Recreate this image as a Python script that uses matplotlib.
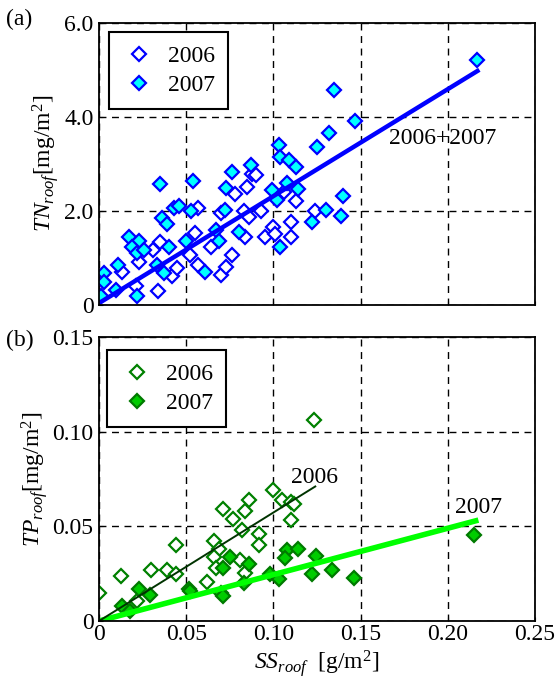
import numpy as np
import matplotlib
matplotlib.use("Agg")
import matplotlib.pyplot as plt

plt.rcParams['font.family'] = ['Liberation Serif', 'DejaVu Serif']
plt.rcParams['mathtext.fontset'] = 'custom'
plt.rcParams['mathtext.rm'] = 'Liberation Serif'
plt.rcParams['mathtext.it'] = 'Liberation Serif:italic'

# (a) TN vs SS, 2006 (open) and 2007 (filled)
tn06_x = [0.013, 0.021, 0.023, 0.031, 0.035, 0.042, 0.045, 0.034, 0.057, 0.055, 0.052,
          0.057, 0.064, 0.070, 0.073, 0.076, 0.070, 0.078, 0.084, 0.085, 0.088, 0.090,
          0.083, 0.086, 0.093, 0.095, 0.100, 0.101, 0.110, 0.110, 0.113, 0.106, 0.124]
tn06_y = [0.70, 0.39, 0.91, 1.16, 1.34, 0.61, 0.78, 0.28, 2.06, 1.53, 1.06,
          0.85, 1.23, 0.63, 0.81, 1.06, 1.95, 2.36, 1.43, 2.50, 2.78, 2.77,
          1.99, 1.86, 1.99, 1.43, 1.65, 1.51, 1.76, 1.43, 2.20, 2.39, 1.99]
tn07_x = [0.001, 0.003, 0.003, 0.011, 0.010, 0.022, 0.017, 0.023, 0.019, 0.022, 0.026,
          0.040, 0.033, 0.037, 0.035, 0.036, 0.039, 0.043, 0.046, 0.053, 0.054, 0.050,
          0.061, 0.067, 0.069, 0.072, 0.073, 0.076, 0.080, 0.087, 0.099, 0.102, 0.104,
          0.103, 0.104, 0.109, 0.113, 0.108, 0.114, 0.125, 0.132, 0.135, 0.147, 0.140,
          0.122, 0.130, 0.139, 0.217]
tn07_y = [0.18, 0.68, 0.49, 0.85, 0.30, 0.18, 1.43, 1.36, 1.23, 1.09, 1.16,
          1.23, 0.85, 0.68, 2.57, 1.85, 1.71, 2.06, 2.11, 1.99, 2.64, 1.36,
          0.70, 1.58, 1.36, 2.02, 2.48, 2.82, 1.54, 2.97, 2.44, 2.22, 1.22,
          3.41, 3.15, 3.08, 2.94, 2.60, 2.46, 3.36, 3.65, 4.58, 3.92, 2.31,
          1.76, 2.01, 1.89, 5.21]
tn_fit = [22.8, 0.03]      # slope, intercept
tn_fit_x = [0.0, 0.217]

# (b) TP vs SS
tp06_x = [0.000, 0.0125, 0.022, 0.030, 0.039, 0.044, 0.044, 0.062, 0.066, 0.069, 0.066,
          0.067, 0.071, 0.077, 0.084, 0.086, 0.082, 0.081, 0.084, 0.092, 0.092, 0.0995,
          0.105, 0.110, 0.112, 0.110, 0.123]
tp06_y = [0.015, 0.024, 0.0105, 0.027, 0.027, 0.025, 0.040, 0.0205, 0.042, 0.038, 0.034,
          0.028, 0.059, 0.054, 0.058, 0.064, 0.048, 0.032, 0.0255, 0.046, 0.040, 0.069,
          0.064, 0.063, 0.062, 0.0535, 0.106]
tp07_x = [0.013, 0.018, 0.023, 0.029, 0.0515, 0.052, 0.070, 0.071, 0.071, 0.075, 0.086,
          0.083, 0.098, 0.103, 0.1076, 0.114, 0.1066, 0.122, 0.1245, 0.1335, 0.146, 0.2153]
tp07_y = [0.008, 0.0053, 0.017, 0.0135, 0.017, 0.016, 0.015, 0.013, 0.028, 0.034, 0.030,
          0.020, 0.0246, 0.0223, 0.0377, 0.0381, 0.0334, 0.0246, 0.0342, 0.027, 0.0226, 0.0456]
tp06_fit = [0.573, 0.0]
tp06_fit_x = [0.0, 0.124]
tp07_fit = [0.245, 0.0]
tp07_fit_x = [0.0, 0.216]

fig = plt.figure(figsize=(5.58, 6.82), dpi=100)
ax1 = fig.add_axes([0.1774, 0.5535, 0.7814, 0.4128])
ax2 = fig.add_axes([0.1774, 0.0894, 0.7814, 0.4165])

fs = 17
ms = 7.5


def style(ax):
    for s in ax.spines.values():
        s.set_linewidth(1.3)
    ax.grid(True, color='black', linestyle=(0, (5, 4)), linewidth=1.0)
    ax.set_axisbelow(True)
    ax.tick_params(direction='in', length=3, labelsize=fs, pad=2)
    ax.tick_params(axis='y', pad=4)


def add_legend(ax, anchor):
    leg = ax.legend(loc='upper left', bbox_to_anchor=anchor, borderaxespad=0,
                    fontsize=fs, fancybox=False, edgecolor='black', framealpha=1,
                    handlelength=1.4, handletextpad=0.55, labelspacing=0.33,
                    borderpad=0.55)
    leg.get_frame().set_linewidth(1.5)
    return leg


# ---- panel (a)
ax1.plot(tn06_x, tn06_y, linestyle='none', marker='D', ms=ms, mfc='white',
         mec='#0000ff', mew=1.6, label='2006')
ax1.plot(tn07_x, tn07_y, linestyle='none', marker='D', ms=ms, mfc='#00ffff',
         mec='#0000ff', mew=1.6, label='2007')
fx = np.array(tn_fit_x)
ax1.plot(fx, tn_fit[0] * fx + tn_fit[1], color='#0000ff', lw=3.2)
ax1.set_xlim(0, 0.25)
ax1.set_ylim(0, 6)
ax1.set_xticks([0, 0.05, 0.10, 0.15, 0.20, 0.25])
ax1.set_xticklabels([])
ax1.set_yticks([0, 2, 4, 6])
ax1.set_yticklabels(['0', '2.0', '4.0', '6.0'])
style(ax1)
ax1.set_ylabel(r'$\mathit{TN}_{\mathit{roof}}$[mg/m$^2$]', fontsize=fs, labelpad=2)
ax1.text(0.197, 3.53, '2006+2007', fontsize=fs, ha='center', va='center')
add_legend(ax1, (0.024, 0.967))

# ---- panel (b)
ax2.plot(tp06_x, tp06_y, linestyle='none', marker='D', ms=ms, mfc='white',
         mec='#008000', mew=1.6, label='2006')
ax2.plot(tp07_x, tp07_y, linestyle='none', marker='D', ms=ms, mfc='#00cc00',
         mec='#007a00', mew=1.6, label='2007')
fx = np.array(tp07_fit_x)
ax2.plot(fx, tp07_fit[0] * fx + tp07_fit[1], color='#00ff00', lw=4)
fx = np.array(tp06_fit_x)
ax2.plot(fx, tp06_fit[0] * fx + tp06_fit[1], color='#003300', lw=1.4)
ax2.set_xlim(0, 0.25)
ax2.set_ylim(0, 0.15)
ax2.set_xticks([0, 0.05, 0.10, 0.15, 0.20, 0.25])
ax2.set_xticklabels(['0', '0.05', '0.10', '0.15', '0.20', '0.25'])
ax2.set_yticks([0, 0.05, 0.10, 0.15])
ax2.set_yticklabels(['0', '0.05', '0.10', '0.15'])
style(ax2)
ax2.set_ylabel(r'$\mathit{TP}_{\mathit{roof}}$[mg/m$^2$]', fontsize=fs, labelpad=2)
ax2.set_xlabel(r'$\mathit{SS}_{\mathit{roof}}$  [g/m$^2$]', fontsize=fs, labelpad=2)
ax2.text(0.1235, 0.076, '2006', fontsize=fs, ha='center', va='center')
ax2.text(0.2176, 0.0597, '2007', fontsize=fs, ha='center', va='center')
add_legend(ax2, (0.019, 0.953))

fig.text(0.01, 0.972, '(a)', fontsize=fs, ha='left', va='center')
fig.text(0.01, 0.501, '(b)', fontsize=fs, ha='left', va='center')

fig.savefig('out.png', dpi=100)
